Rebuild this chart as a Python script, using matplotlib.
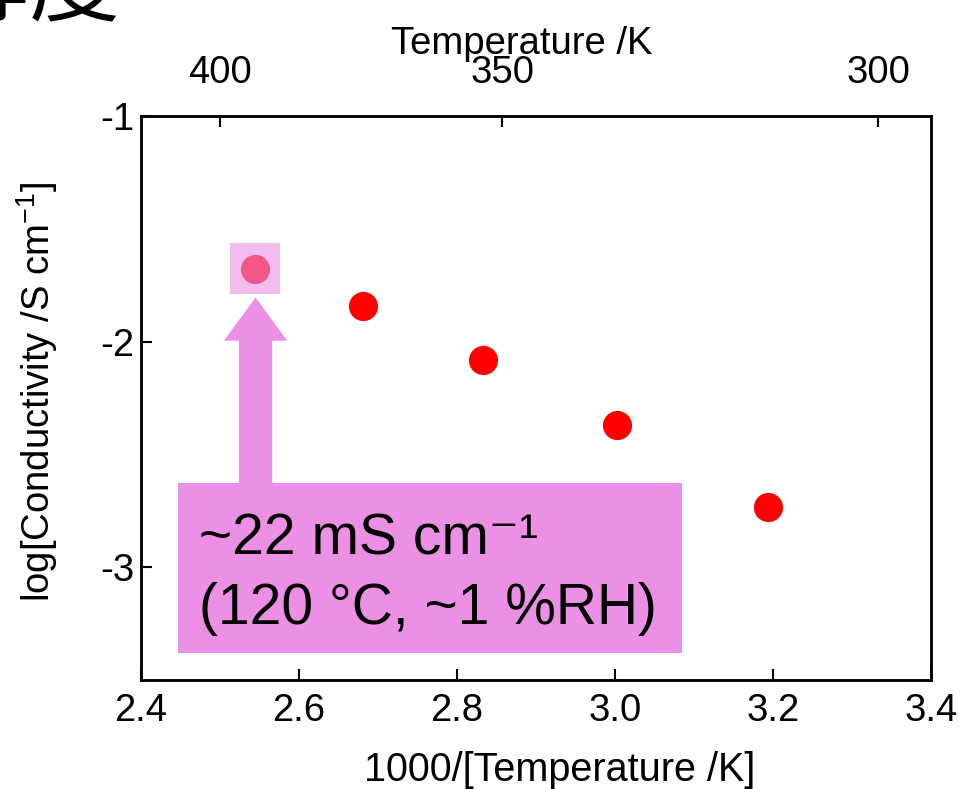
import matplotlib
matplotlib.use("Agg")
import matplotlib.pyplot as plt
from matplotlib.patches import Rectangle, FancyArrow

plt.rcParams['font.family'] = ['Liberation Sans', 'DejaVu Sans']
plt.rcParams['mathtext.fontset'] = 'custom'
plt.rcParams['mathtext.rm'] = 'Liberation Sans'
plt.rcParams['mathtext.it'] = 'Liberation Sans:italic'

# data
inv_temp = [2.544, 2.681, 2.833, 3.003, 3.194]      # 1000/T (K^-1)
log_cond = [-1.68, -1.84, -2.08, -2.369, -2.733]    # log(S cm^-1)

x_ticks = [2.4, 2.6, 2.8, 3.0, 3.2, 3.4]
y_ticks = [-1, -2, -3]
top_temps = [400, 350, 300]

pink = '#EB90E5'

fig = plt.figure(figsize=(9.62, 7.89), dpi=100)
ax = fig.add_axes([0.1466, 0.1381, 0.8212, 0.7149])

ax.plot(inv_temp, log_cond, 'o', color='red', markersize=21, markeredgewidth=0, zorder=3)

ax.set_xlim(2.4, 3.4)
ax.set_ylim(-3.5, -1)
ax.set_xticks(x_ticks)
ax.set_xticklabels(['%.1f' % v for v in x_ticks])
ax.set_yticks(y_ticks)
ax.set_yticklabels(['%d' % v for v in y_ticks])
ax.tick_params(direction='in', length=8, width=1.5, labelsize=27.5)
ax.tick_params(axis='x', pad=9)
ax.tick_params(axis='y', pad=5)
for s in ax.spines.values():
    s.set_linewidth(1.8)

ax.set_xlabel('1000/[Temperature /K]', fontsize=28.5)
ax.xaxis.set_label_coords(0.53, -0.125)
ax.set_ylabel(r'log[Conductivity /S cm$^{\mathregular{-1}}$]', fontsize=27.5)
ax.yaxis.set_label_coords(-0.103, 0.51)

# top axis in Kelvin
ax2 = ax.twiny()
ax2.set_xlim(ax.get_xlim())
ax2.set_xticks([1000 / t for t in top_temps])
ax2.set_xticklabels([str(t) for t in top_temps])
ax2.tick_params(direction='in', length=8, width=1.5, labelsize=27.5, pad=18)
for s in ax2.spines.values():
    s.set_linewidth(1.8)
ax2.set_xlabel('Temperature /K', fontsize=27.5)
ax2.xaxis.set_label_coords(0.482, 1.11)

# highlight of the 120 C point
ax.add_patch(Rectangle((2.513, -1.791), 0.063, 0.227, facecolor=pink,
                       alpha=0.6, edgecolor='none', zorder=4))
ax.add_patch(FancyArrow(2.545, -2.627, 0, 0.823, width=0.042, head_width=0.08,
                        head_length=0.192, length_includes_head=True,
                        facecolor=pink, edgecolor='none', zorder=4))
ax.add_patch(Rectangle((2.447, -3.382), 0.638, 0.755, facecolor=pink,
                       edgecolor='none', zorder=4))
ax.text(2.474, -2.942, '~22 mS cm\u207b\u00b9', fontsize=41, va='baseline', ha='left', zorder=5)
ax.text(2.474, -3.253, '(120 \u00b0C, ~1 %RH)', fontsize=41, va='baseline', ha='left', zorder=5)

# heading cut off at the top edge
fig.text(120 / 962, 1 - 13 / 789, '伝導度', fontsize=65, ha='right', va='baseline',
         family=['Noto Sans CJK JP', 'DejaVu Sans'])

fig.savefig('out.png', dpi=100)
